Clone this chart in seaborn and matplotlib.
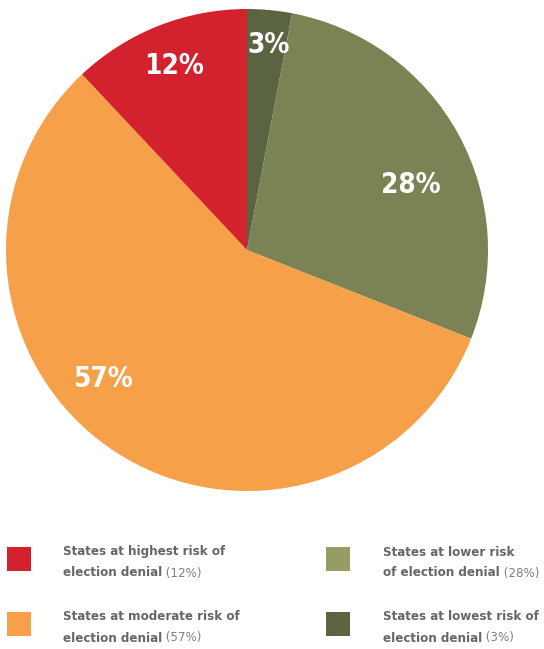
"""Pie chart: share of states by election-denial risk."""

import matplotlib.pyplot as plt
import numpy as np
import seaborn as sns
from matplotlib.patches import Rectangle

# data -------------------------------------------------------------------
categories = ["lowest", "lower", "moderate", "highest"]
shares = [3, 28, 57, 12]
slice_colors = ["#5A6440", "#7B8253", "#F7A04A", "#D3222E"]
legend_colors = {"highest": "#D3222E", "lower": "#979C62",
                 "moderate": "#F7A04A", "lowest": "#5C6440"}
legend_first = {"highest": "States at highest risk of",
                "lower": "States at lower risk",
                "moderate": "States at moderate risk of",
                "lowest": "States at lowest risk of"}
legend_second = {"highest": "election denial",
                 "lower": "of election denial",
                 "moderate": "election denial",
                 "lowest": "election denial"}

# label placement tweaks (radius fraction, angle offset in degrees)
label_r = [0.855, 0.73, 0.80, 0.82]
label_da = [-0.5, -7.0, -14.0, 0.0]

sns.set_theme(style="white")
plt.rcParams["font.family"] = ["DejaVu Sans"]
plt.rcParams["font.stretch"] = "condensed"

W, H = 544, 649
fig = plt.figure(figsize=(W / 100, H / 100), dpi=100)
fig.patch.set_facecolor("white")

cx, cy, R = 247, 250, 241
ax = fig.add_axes([(cx - R) / W, (H - cy - R) / H, 2 * R / W, 2 * R / H])
wedges, _ = ax.pie(shares, colors=slice_colors, startangle=90,
                   counterclock=False, radius=1.0,
                   wedgeprops={"linewidth": 0, "antialiased": True})
ax.set_xlim(-1, 1)
ax.set_ylim(-1, 1)
ax.set_aspect("equal")
ax.axis("off")

for w, s, r, da in zip(wedges, shares, label_r, label_da):
    mid = np.deg2rad((w.theta1 + w.theta2) / 2 + da)
    ax.text(r * np.cos(mid), r * np.sin(mid), f"{s}%", color="white",
            fontsize=20, fontweight="bold", ha="center", va="center",
            fontstretch="condensed")

# legend -----------------------------------------------------------------
text_color = "#666666"
fs = 9.5
rows = [("highest", 7, 63, 547), ("lower", 326, 383, 547),
        ("moderate", 7, 63, 612), ("lowest", 326, 383, 612)]
pct = dict(zip(categories, shares))
for key, sx, tx, sy in rows:
    fig.add_artist(Rectangle((sx / W, 1 - (sy + 24) / H), 24 / W, 24 / H,
                             transform=fig.transFigure,
                             facecolor=legend_colors[key], edgecolor="none"))
    fig.text(tx / W, 1 - (sy + 5) / H, legend_first[key], fontsize=fs,
             fontweight="bold", color=text_color, ha="left", va="center",
             fontstretch="condensed")
    t2 = fig.text(tx / W, 1 - (sy + 26) / H, legend_second[key], fontsize=fs,
                  fontweight="bold", color=text_color, ha="left", va="center",
                  fontstretch="condensed")
    ax.annotate(f" ({pct[key]}%)", xy=(1, 0.5), xycoords=t2,
                va="center", ha="left", fontsize=fs, color="#808080",
                fontstretch="condensed", annotation_clip=False)

fig.savefig("out.png", dpi=100)
